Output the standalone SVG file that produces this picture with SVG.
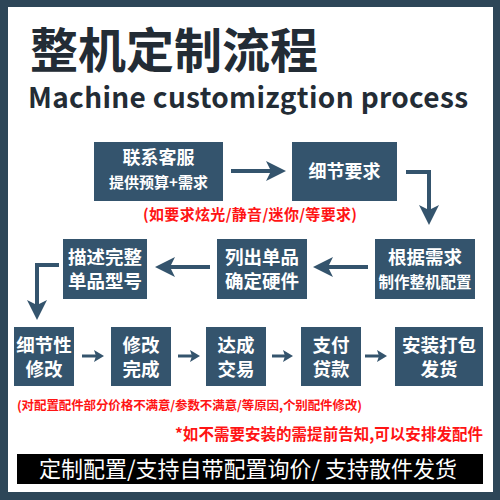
<svg xmlns="http://www.w3.org/2000/svg" width="500" height="500" viewBox="0 0 500 500">
<style>
.box{fill:#34546d}
.bt{fill:#fff;font-family:"Noto Sans CJK SC","Noto Sans",sans-serif;font-weight:700;text-anchor:middle}
.red{fill:#ff1414;font-family:"Noto Sans CJK SC","Noto Sans",sans-serif;font-weight:700}
.con{fill:none;stroke:#34546d;stroke-linejoin:miter}
</style>
<defs>
<marker id="big" viewBox="0 0 20 20" refX="12" refY="10" markerWidth="20" markerHeight="20" markerUnits="userSpaceOnUse" orient="auto">
<path d="M0,0 L20,10 L0,20 L5,10 z" fill="#34546d"/>
</marker>
<marker id="small" viewBox="0 0 10 12" refX="6" refY="6" markerWidth="10" markerHeight="12" markerUnits="userSpaceOnUse" orient="auto">
<path d="M0,0 L10,6 L0,12 L2,6 z" fill="#34546d"/>
</marker>
</defs>
<rect x="0" y="0" width="500" height="500" fill="#2d4658"/>
<rect x="8" y="7" width="485" height="485" fill="#ffffff"/>
<text x="30" y="68" font-family="Noto Sans CJK SC,sans-serif" font-weight="700" font-size="48" fill="#232c35">整机定制流程</text>
<text x="28" y="108" font-family="Noto Sans CJK SC,Noto Sans,sans-serif" font-weight="700" font-size="28" fill="#232c35" textLength="440">Machine customizgtion process</text>

<g id="n1"><rect class="box" x="94" y="142" width="129" height="59"/>
<text class="bt" x="158.5" y="164" font-size="18">联系客服</text>
<text class="bt" x="158.5" y="188" font-size="15">提供预算+需求</text></g>
<g id="n2"><rect class="box" x="292" y="142" width="105" height="59"/>
<text class="bt" x="344.5" y="178" font-size="18">细节要求</text></g>
<text class="red" x="143" y="220" font-size="15" textLength="214">(如要求炫光/静音/迷你/等要求)</text>

<g id="n3"><rect class="box" x="375" y="239" width="100" height="60"/>
<text class="bt" x="425" y="264" font-size="18.5">根据需求</text>
<text class="bt" x="425" y="288" font-size="15.5">制作整机配置</text></g>
<g id="n4"><rect class="box" x="217" y="239" width="90" height="60"/>
<text class="bt" x="262" y="264" font-size="18.5">列出单品</text>
<text class="bt" x="262" y="288" font-size="18.5">确定硬件</text></g>
<g id="n5"><rect class="box" x="63" y="239" width="84" height="60"/>
<text class="bt" x="105" y="264" font-size="18.5">描述完整</text>
<text class="bt" x="105" y="288" font-size="18.5">单品型号</text></g>

<g id="n6"><rect class="box" x="14" y="327" width="60" height="59"/>
<text class="bt" x="44" y="352" font-size="18.5">细节性</text>
<text class="bt" x="44" y="376" font-size="18.5">修改</text></g>
<g id="n7"><rect class="box" x="111" y="327" width="60" height="59"/>
<text class="bt" x="141" y="352" font-size="18.5">修改</text>
<text class="bt" x="141" y="376" font-size="18.5">完成</text></g>
<g id="n8"><rect class="box" x="206" y="327" width="60" height="59"/>
<text class="bt" x="236" y="352" font-size="18.5">达成</text>
<text class="bt" x="236" y="376" font-size="18.5">交易</text></g>
<g id="n9"><rect class="box" x="301" y="327" width="60" height="59"/>
<text class="bt" x="331" y="352" font-size="18.5">支付</text>
<text class="bt" x="331" y="376" font-size="18.5">贷款</text></g>
<g id="n10"><rect class="box" x="395" y="327" width="88" height="59"/>
<text class="bt" x="439" y="352" font-size="18.5">安装打包</text>
<text class="bt" x="439" y="376" font-size="18.5">发货</text></g>

<g id="connectors">
<path class="con" stroke-width="4" d="M231,171 H278" marker-end="url(#big)"/>
<path class="con" stroke-width="4" d="M406,172 H429 V217" marker-end="url(#big)"/>
<path class="con" stroke-width="4" d="M368,267 H321" marker-end="url(#big)"/>
<path class="con" stroke-width="4" d="M210,267 H163" marker-end="url(#big)"/>
<path class="con" stroke-width="4" d="M59,265 H37 V312" marker-end="url(#big)"/>
<path class="con" stroke-width="3" d="M82,356 H100" marker-end="url(#small)"/>
<path class="con" stroke-width="3" d="M178,356 H196" marker-end="url(#small)"/>
<path class="con" stroke-width="3" d="M272,356 H289" marker-end="url(#small)"/>
<path class="con" stroke-width="3" d="M365,356 H383" marker-end="url(#small)"/>
</g>

<text class="red" x="17" y="409.5" font-size="12.5" textLength="345">(对配置配件部分价格不满意/参数不满意/等原因,个别配件修改)</text>
<text class="red" x="175" y="440" font-size="15.5" font-weight="500" textLength="308">*如不需要安装的需提前告知,可以安排发配件</text>
<rect x="17" y="454" width="466" height="30" fill="#000000"/>
<text x="39" y="477" font-family="Noto Sans CJK SC,sans-serif" font-weight="400" font-size="22" fill="#ffffff" textLength="418">定制配置/支持自带配置询价/ 支持散件发货</text>
</svg>
